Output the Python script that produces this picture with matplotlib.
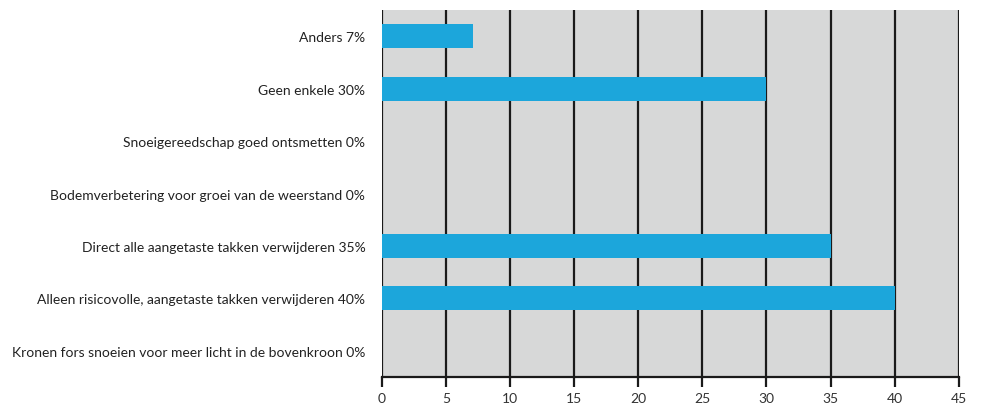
import matplotlib
matplotlib.use("Agg")
import matplotlib.pyplot as plt

categories = [
    "Kronen fors snoeien voor meer licht in de bovenkroon 0%",
    "Alleen risicovolle, aangetaste takken verwijderen 40%",
    "Direct alle aangetaste takken verwijderen 35%",
    "Bodemverbetering voor groei van de weerstand 0%",
    "Snoeigereedschap goed ontsmetten 0%",
    "Geen enkele 30%",
    "Anders 7%",
]
values = [0, 40, 35, 0, 0, 30, 7.1]
xticks = [0, 5, 10, 15, 20, 25, 30, 35, 40, 45]

plt.rcParams['font.family'] = ['Lato', 'DejaVu Sans']

fig = plt.figure(figsize=(9.82, 4.10), dpi=100)
ax = fig.add_axes([0.389, 0.078, 0.5873, 0.895])
ax.set_facecolor('#d7d8d8')

ypos = list(range(len(categories)))
ax.barh(ypos, values, height=0.46, color='#1ca6db', zorder=3)
ax.set_yticks(ypos)
ax.set_yticklabels(categories, fontsize=10, color='#222222')
ax.set_ylim(-0.5, len(categories) - 0.5)

ax.set_xlim(0, 45)
ax.set_xticks(xticks)
ax.set_xticklabels([str(t) for t in xticks], fontsize=10, color='#333333')
ax.xaxis.grid(True, color='#1a1a1a', linewidth=1.6, zorder=1)
ax.set_axisbelow(True)

ax.tick_params(axis='y', length=0, pad=12)
ax.tick_params(axis='x', length=7, width=1.6, color='#1a1a1a', pad=4)

for side in ['left', 'right', 'top']:
    ax.spines[side].set_visible(False)
ax.spines['bottom'].set_color('#1a1a1a')
ax.spines['bottom'].set_linewidth(1.6)

fig.savefig("out.png", dpi=100)
